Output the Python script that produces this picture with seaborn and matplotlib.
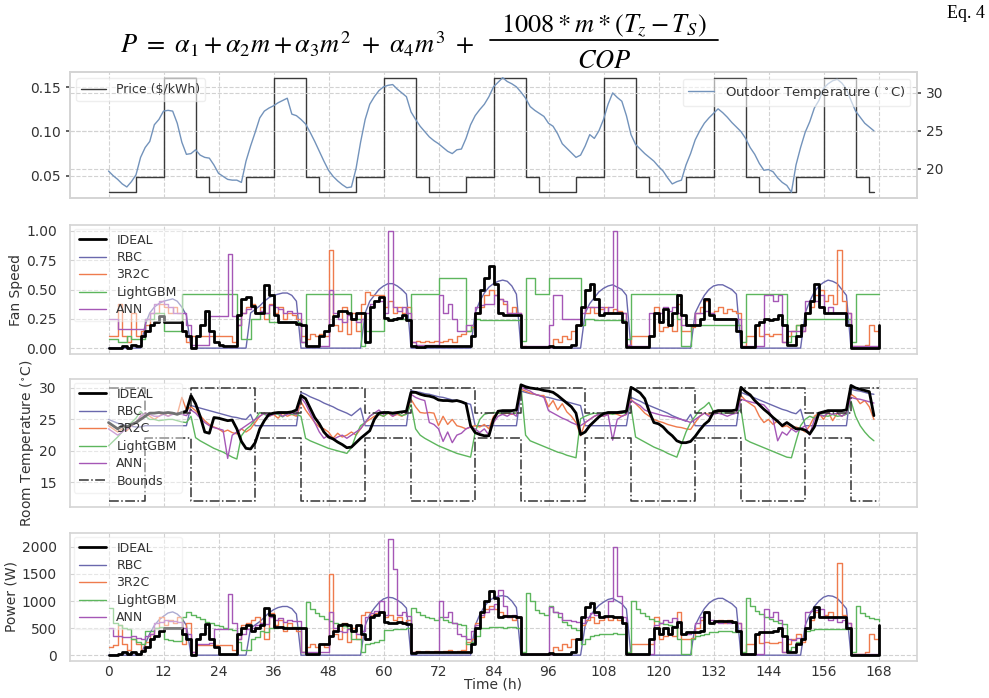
import numpy as np
import seaborn as sns
import matplotlib.pyplot as plt
from matplotlib.lines import Line2D

# ---------------- data (hourly) ----------------
price_hours = [0, 6, 12, 19, 22, 30, 36, 43, 46, 54, 60, 67, 70, 78, 84, 91, 94, 102,
               108, 115, 118, 126, 132, 139, 142, 150, 156, 163, 166, 167]
price_vals = [0.031, 0.048, 0.161, 0.048, 0.031, 0.048, 0.161, 0.048, 0.031, 0.048,
              0.161, 0.048, 0.031, 0.048, 0.161, 0.048, 0.031, 0.048, 0.161, 0.048,
              0.031, 0.048, 0.161, 0.048, 0.031, 0.048, 0.161, 0.048, 0.031, 0.031]

outdoor_temp = [
    19.7, 19.1, 18.6, 18.0, 17.6, 18.3, 19.2, 21.5, 22.8, 23.6, 25.8, 26.5, 27.6, 27.7, 27.6, 26.0, 23.5, 21.9, 22.0, 22.5, 21.8, 21.5, 21.4, 20.5,
    19.4, 19.0, 18.6, 18.5, 18.5, 18.2, 21.0, 23.0, 24.8, 26.7, 27.6, 28.0, 28.3, 28.7, 29.0, 29.3, 27.2, 27.0, 26.5, 25.9, 24.8, 23.6, 22.3, 21.0,
    19.8, 19.0, 18.4, 17.9, 17.5, 17.6, 20.0, 23.5, 26.5, 28.5, 29.5, 30.3, 30.8, 31.0, 31.1, 30.5, 30.0, 29.5, 27.5, 26.5, 25.6, 24.9, 24.2, 23.7,
    23.3, 22.8, 22.3, 22.0, 22.5, 22.6, 24.0, 25.8, 27.0, 27.8, 28.5, 29.5, 30.8, 31.4, 32.0, 31.5, 31.2, 30.8, 30.1, 29.3, 28.2, 27.7, 27.3, 26.9,
    26.0, 25.6, 24.6, 23.3, 22.7, 22.1, 21.5, 21.8, 23.0, 24.5, 24.0, 25.0, 26.5, 28.5, 30.0, 29.4, 28.9, 27.0, 24.5, 23.2, 22.6, 22.0, 21.5, 21.0,
    20.3, 19.7, 18.8, 18.0, 18.3, 18.5, 20.5, 22.0, 23.8, 25.0, 26.0, 26.7, 27.3, 27.9, 27.4, 26.8, 26.1, 25.5, 24.9, 24.0, 22.8, 21.9, 20.7, 19.8,
    19.9, 19.6, 18.8, 18.2, 17.8, 16.9, 20.5, 22.8, 24.8, 26.2, 28.0, 29.0, 30.6, 31.2, 31.6, 31.8, 31.3, 30.5, 29.0, 27.6, 26.8, 26.0, 25.5, 25.0]

# fan speed
fan_ideal = [
    0, 0, 0, 0.02, 0, 0.03, 0.02, 0.1, 0.15, 0.2, 0.22, 0.27, 0.22, 0.22, 0.22, 0.22, 0.15, 0.1, 0, 0.1, 0.2, 0.32, 0.15, 0.05,
    0.03, 0.02, 0.02, 0.02, 0.28, 0.42, 0.44, 0.36, 0.3, 0.3, 0.54, 0.45, 0.28, 0.22, 0.22, 0.22, 0.22, 0.21, 0.2, 0.02, 0.02, 0.02, 0.1, 0.15,
    0.2, 0.27, 0.32, 0.32, 0.3, 0.25, 0.3, 0.3, 0.05, 0.35, 0.4, 0.44, 0.26, 0.24, 0.25, 0.26, 0.28, 0.24, 0.02, 0.01, 0.01, 0.02, 0.02, 0.02,
    0.02, 0.02, 0.02, 0.02, 0.02, 0.02, 0.02, 0.1, 0.3, 0.5, 0.6, 0.7, 0.55, 0.3, 0.28, 0.28, 0.28, 0.28, 0.01, 0.01, 0.01, 0.01, 0.01, 0.01,
    0.02, 0.01, 0.01, 0.01, 0.01, 0.03, 0.2, 0.35, 0.5, 0.55, 0.42, 0.28, 0.3, 0.3, 0.3, 0.3, 0.22, 0.01, 0.01, 0.01, 0.01, 0.01, 0.1, 0.3,
    0.22, 0.33, 0.2, 0.3, 0.45, 0.28, 0.2, 0.2, 0.2, 0.25, 0.42, 0.28, 0.25, 0.25, 0.25, 0.25, 0.25, 0.15, 0.01, 0.01, 0.01, 0.2, 0.22, 0.25,
    0.24, 0.25, 0.28, 0.2, 0.03, 0.03, 0.1, 0.2, 0.3, 0.4, 0.55, 0.35, 0.3, 0.3, 0.3, 0.3, 0.3, 0.2, 0, 0, 0, 0, 0, 0,
    0.2]
fan_rbc = [
    0, 0, 0, 0, 0, 0, 0, 0, 0.2, 0.3, 0.35, 0.38, 0.4, 0.41, 0.42, 0.4, 0.35, 0.28, 0, 0, 0, 0, 0, 0,
    0, 0, 0, 0, 0, 0, 0, 0.3, 0.33, 0.36, 0.4, 0.43, 0.45, 0.46, 0.47, 0.47, 0.45, 0.4, 0, 0, 0, 0, 0, 0,
    0, 0, 0, 0, 0, 0, 0, 0, 0.3, 0.4, 0.45, 0.5, 0.53, 0.55, 0.55, 0.53, 0.5, 0.46, 0, 0, 0, 0, 0, 0,
    0, 0, 0, 0, 0, 0, 0, 0, 0.3, 0.4, 0.47, 0.52, 0.55, 0.57, 0.58, 0.57, 0.53, 0.46, 0, 0, 0, 0, 0, 0,
    0, 0, 0, 0, 0, 0, 0, 0, 0.3, 0.38, 0.43, 0.48, 0.51, 0.53, 0.54, 0.52, 0.5, 0.45, 0, 0, 0, 0, 0, 0,
    0, 0, 0, 0, 0, 0, 0, 0, 0.3, 0.38, 0.45, 0.5, 0.53, 0.54, 0.54, 0.52, 0.5, 0.46, 0, 0, 0, 0, 0, 0,
    0, 0, 0, 0, 0, 0, 0, 0, 0.3, 0.4, 0.48, 0.53, 0.56, 0.58, 0.57, 0.55, 0.5, 0.45, 0, 0, 0, 0, 0, 0,
    0]
fan_3r2c = [
    0.1, 0.1, 0.38, 0.1, 0.05, 0.3, 0.1, 0.15, 0.2, 0.3, 0.3, 0.38, 0.35, 0.3, 0.35, 0.3, 0.15, 0.05, 0.1, 0.1, 0.1, 0.1, 0.1, 0.1,
    0.1, 0.1, 0.1, 0.05, 0.2, 0.3, 0.35, 0.38, 0.3, 0.35, 0.25, 0.38, 0.3, 0.35, 0.25, 0.3, 0.28, 0.25, 0.1, 0.08, 0.12, 0.1, 0.12, 0.1,
    0.84, 0.2, 0.15, 0.35, 0.12, 0.3, 0.15, 0.38, 0.48, 0.45, 0.45, 0.45, 0.35, 0.4, 0.3, 0.35, 0.3, 0.35, 0.05, 0.06, 0.05, 0.06, 0.05, 0.06,
    0.05, 0.06, 0.08, 0.05, 0.1, 0.12, 0.15, 0.18, 0.3, 0.35, 0.45, 0.5, 0.45, 0.42, 0.38, 0.3, 0.35, 0.3, 0.02, 0.01, 0.01, 0.01, 0.01, 0.01,
    0.01, 0.08, 0.05, 0.1, 0.08, 0.15, 0.2, 0.35, 0.3, 0.35, 0.3, 0.33, 0.35, 0.3, 0.33, 0.32, 0.3, 0.03, 0.1, 0.1, 0.1, 0.1, 0.1, 0.35,
    0.15, 0.18, 0.2, 0.15, 0.38, 0.15, 0.15, 0.18, 0.3, 0.35, 0.4, 0.3, 0.32, 0.35, 0.3, 0.33, 0.32, 0.3, 0.02, 0.1, 0.1, 0.2, 0.1, 0.12,
    0.1, 0.12, 0.12, 0.05, 0.1, 0.15, 0.2, 0.15, 0.3, 0.35, 0.45, 0.5, 0.4, 0.45, 0.38, 0.84, 0.4, 0.3, 0.02, 0.02, 0.02, 0.03, 0.2, 0.15,
    0.15]
fan_lgbm = [
    0.08, 0.08, 0.05, 0.05, 0.1, 0.08, 0.08, 0.08, 0.25, 0.25, 0.3, 0.3, 0.15, 0.15, 0.15, 0.15, 0.46, 0.46, 0.46, 0.46, 0.46, 0.46, 0.46, 0.46,
    0.46, 0.46, 0.46, 0.46, 0.25, 0.08, 0.08, 0.25, 0.25, 0.3, 0.3, 0.22, 0.22, 0.22, 0.22, 0.22, 0.22, 0.22, 0.05, 0.46, 0.46, 0.46, 0.46, 0.46,
    0.46, 0.46, 0.46, 0.46, 0.46, 0.25, 0.25, 0.02, 0.15, 0.15, 0.15, 0.15, 0.25, 0.25, 0.25, 0.25, 0.25, 0.25, 0.46, 0.46, 0.46, 0.46, 0.46, 0.46,
    0.6, 0.6, 0.6, 0.6, 0.6, 0.6, 0.15, 0.2, 0.25, 0.24, 0.24, 0.24, 0.24, 0.24, 0.24, 0.24, 0.24, 0.24, 0.06, 0.6, 0.6, 0.46, 0.46, 0.46,
    0.6, 0.6, 0.6, 0.6, 0.6, 0.6, 0.6, 0.2, 0.25, 0.25, 0.24, 0.24, 0.24, 0.24, 0.24, 0.24, 0.24, 0.08, 0.46, 0.46, 0.46, 0.46, 0.46, 0.46,
    0.46, 0.46, 0.46, 0.46, 0.25, 0.02, 0.02, 0.2, 0.2, 0.2, 0.2, 0.2, 0.2, 0.2, 0.2, 0.2, 0.2, 0.2, 0.05, 0.46, 0.46, 0.46, 0.46, 0.46,
    0.46, 0.46, 0.46, 0.46, 0.05, 0.1, 0.2, 0.2, 0.25, 0.25, 0.25, 0.25, 0.25, 0.25, 0.25, 0.25, 0.25, 0.25, 0.05, 0.46, 0.46, 0.46, 0.46, 0.46,
    0.46]
fan_ann = [
    0.25, 0.25, 0.16, 0.16, 0.16, 0.16, 0.16, 0.16, 0.25, 0.3, 0.38, 0.4, 0.38, 0.35, 0.3, 0.3, 0.3, 0.2, 0.03, 0.03, 0.03, 0.03, 0.27, 0.27,
    0.27, 0.27, 0.8, 0.27, 0.2, 0.3, 0.33, 0.35, 0.3, 0.32, 0.3, 0.37, 0.35, 0.33, 0.3, 0.32, 0.3, 0.3, 0.05, 0.02, 0.02, 0.02, 0.02, 0.02,
    0.5, 0.3, 0.25, 0.22, 0.28, 0.25, 0.22, 0.25, 0.3, 0.38, 0.4, 0.4, 0.3, 1.0, 0.35, 0.32, 0.35, 0.3, 0.05, 0.03, 0.03, 0.03, 0.03, 0.03,
    0.45, 0.3, 0.38, 0.25, 0.15, 0.15, 0.2, 0.2, 0.35, 0.37, 0.38, 0.38, 0.45, 0.42, 0.4, 0.3, 0.3, 0.3, 0.02, 0.02, 0.02, 0.02, 0.02, 0.02,
    0.2, 0.45, 0.45, 0.25, 0.25, 0.25, 0.25, 0.3, 0.35, 0.35, 0.35, 0.35, 0.3, 0.35, 1.0, 0.3, 0.3, 0.03, 0.02, 0.02, 0.02, 0.02, 0.3, 0.3,
    0.3, 0.35, 0.32, 0.35, 0.3, 0.2, 0.2, 0.2, 0.3, 0.3, 0.32, 0.3, 0.25, 0.25, 0.25, 0.25, 0.25, 0.25, 0.02, 0.02, 0.02, 0.02, 0.02, 0.45,
    0.45, 0.4, 0.45, 0.05, 0.15, 0.15, 0.15, 0.15, 0.4, 0.4, 0.4, 0.45, 0.3, 0.35, 0.3, 0.3, 0.3, 0.3, 0.02, 0.02, 0.02, 0.02, 0.02, 0.02,
    0.02]

# room temperature
room_ideal = [
    24.5, 24.0, 23.5, 24.0, 23.8, 24.2, 24.5, 25.0, 25.5, 26.0, 26.0, 26.1, 26.0, 26.1, 26.0, 25.8, 26.1, 26.3, 28.8, 27.5, 25.5, 23.0, 22.8, 25.3,
    25.2, 25.0, 24.8, 24.9, 23.5, 21.5, 20.4, 20.3, 21.3, 23.5, 24.8, 25.8, 26.0, 26.1, 26.1, 26.1, 26.2, 26.5, 28.8, 28.3, 26.8, 25.3, 24.3, 23.0,
    22.2, 21.9, 21.4, 21.0, 20.5, 20.6, 21.3, 22.0, 22.6, 23.2, 25.0, 26.0, 26.1, 26.1, 26.0, 26.1, 26.2, 26.3, 29.3, 29.3, 29.0, 28.8, 28.7, 28.5,
    28.1, 28.0, 28.0, 27.9, 28.0, 27.8, 27.5, 24.0, 22.9, 22.6, 22.4, 22.4, 25.0, 26.3, 26.4, 26.4, 26.4, 26.5, 30.5, 30.2, 30.0, 29.9, 29.8, 29.6,
    29.5, 29.3, 28.8, 28.2, 27.6, 27.0, 26.0, 22.6, 23.0, 24.0, 24.7, 25.4, 25.9, 26.1, 26.1, 26.1, 26.2, 26.3, 30.1, 29.7, 29.2, 28.3, 26.2, 24.5,
    24.3, 23.8, 23.0, 22.4, 21.6, 21.3, 21.3, 21.5, 22.3, 23.3, 24.2, 24.8, 26.2, 26.4, 26.4, 26.4, 26.4, 26.5, 30.1, 29.4, 28.9, 28.0, 27.3, 26.6,
    26.0, 25.3, 24.7, 24.0, 24.5, 24.0, 23.5, 23.5, 23.3, 22.7, 23.8, 26.0, 26.2, 26.4, 26.4, 26.4, 26.4, 26.5, 30.4, 30.0, 29.8, 29.6, 29.4, 25.6]
room_rbc = [
    25.0, 24.7, 24.4, 24.2, 24.0, 23.9, 23.8, 23.8, 24.0, 24.0, 24.0, 24.0, 24.0, 24.0, 24.0, 24.0, 24.0, 24.0, 27.2, 27.0, 26.8, 26.6, 26.4, 26.2,
    26.0, 25.8, 25.6, 25.4, 25.3, 25.1, 25.0, 25.8, 24.0, 24.0, 24.0, 24.0, 24.0, 24.0, 24.0, 24.0, 24.0, 24.0, 29.3, 29.0, 28.6, 28.3, 28.0, 27.6,
    27.3, 27.0, 26.6, 26.3, 26.0, 25.6, 26.2, 26.8, 24.0, 24.0, 24.0, 24.0, 24.0, 24.0, 24.0, 24.0, 24.0, 24.0, 29.6, 29.4, 29.3, 29.1, 29.0, 28.8,
    28.6, 28.5, 28.3, 28.1, 28.0, 27.8, 27.6, 27.4, 24.0, 24.0, 24.0, 24.0, 24.0, 24.0, 24.0, 24.0, 24.0, 24.0, 29.5, 29.3, 29.1, 29.0, 28.8, 28.6,
    28.5, 28.3, 28.1, 28.0, 27.8, 27.6, 27.4, 27.2, 24.0, 24.0, 24.0, 24.0, 24.0, 24.0, 24.0, 24.0, 24.0, 24.0, 28.5, 28.2, 27.9, 27.5, 27.2, 26.9,
    26.6, 26.3, 26.0, 25.6, 25.3, 25.0, 24.7, 25.8, 24.0, 24.0, 24.0, 24.0, 24.0, 24.0, 24.0, 24.0, 24.0, 24.0, 29.3, 29.0, 28.7, 28.4, 28.1, 27.8,
    27.5, 27.2, 26.9, 26.6, 26.4, 26.1, 25.9, 26.6, 24.0, 24.0, 24.0, 24.0, 24.0, 24.0, 24.0, 24.0, 24.0, 24.0, 29.8, 29.6, 29.5, 29.3, 29.1, 29.0]
room_3r2c = [
    24.0, 23.5, 23.0, 23.5, 23.2, 24.0, 24.5, 25.5, 26.0, 25.5, 25.0, 25.5, 26.0, 25.5, 26.0, 25.8, 28.5, 26.5, 27.0, 26.4, 25.6, 24.8, 24.2, 23.8,
    23.5, 23.0, 23.3, 22.9, 22.7, 23.5, 23.0, 23.5, 24.5, 25.5, 26.0, 25.5, 25.8, 25.2, 26.0, 25.5, 25.8, 25.5, 27.8, 26.5, 25.5, 24.5, 23.8, 23.5,
    23.0, 22.0, 22.8, 22.2, 22.5, 23.0, 22.5, 23.5, 24.5, 25.0, 25.5, 25.8, 25.5, 26.0, 25.5, 25.8, 25.5, 26.0, 28.2, 27.0, 26.1, 26.0, 26.1, 26.0,
    24.0, 25.5, 24.2, 25.0, 24.0, 23.8, 23.5, 23.8, 24.0, 23.8, 24.2, 23.5, 25.5, 26.0, 25.8, 26.0, 25.8, 26.0, 29.8, 29.5, 29.2, 29.0, 28.8, 28.8,
    27.0, 28.0, 26.5, 27.5, 26.2, 25.5, 24.5, 22.4, 24.5, 25.0, 25.5, 25.8, 25.5, 25.8, 26.0, 25.8, 25.5, 25.8, 28.2, 27.5, 26.8, 26.0, 25.5, 25.0,
    24.7, 24.5, 24.2, 24.0, 23.8, 23.7, 23.5, 23.4, 24.5, 25.5, 26.0, 25.8, 26.2, 26.0, 26.4, 26.0, 26.2, 26.0, 28.8, 28.0, 27.5, 27.0, 25.5, 24.5,
    25.0, 24.2, 24.8, 23.8, 24.0, 23.5, 23.8, 23.5, 23.0, 24.0, 25.5, 26.0, 25.0, 26.2, 24.8, 26.0, 25.5, 26.0, 29.0, 28.5, 27.5, 28.0, 27.0, 25.0]
room_lgbm = [
    20.8, 21.5, 22.2, 23.0, 23.8, 24.5, 25.2, 26.3, 25.5, 25.0, 25.0, 24.8, 24.9, 25.0, 25.0, 24.8, 24.6, 24.5, 25.5, 22.1, 21.6, 21.2, 20.8, 20.4,
    20.1, 19.8, 19.4, 19.0, 18.7, 22.4, 23.4, 24.0, 25.0, 26.1, 25.8, 25.5, 26.0, 25.8, 25.4, 26.0, 25.8, 25.8, 25.5, 22.0, 21.6, 21.3, 21.0, 20.7,
    20.4, 20.2, 20.0, 19.8, 19.6, 20.5, 22.5, 24.0, 24.5, 25.5, 26.0, 25.8, 25.5, 26.0, 25.8, 26.0, 25.6, 25.8, 27.4, 23.5, 22.5, 22.0, 21.6, 21.2,
    20.8, 20.5, 20.2, 19.9, 19.6, 19.4, 19.2, 19.0, 23.0, 25.0, 25.8, 26.0, 26.1, 26.0, 26.0, 26.2, 26.0, 26.0, 30.2, 22.5, 21.6, 21.3, 21.0, 20.7,
    20.4, 20.1, 19.8, 19.6, 19.3, 19.1, 18.9, 25.1, 25.5, 25.8, 26.0, 25.8, 26.0, 26.0, 25.8, 26.0, 26.0, 26.0, 27.0, 22.2, 21.8, 21.4, 21.0, 20.6,
    20.3, 20.0, 19.6, 19.3, 19.0, 21.0, 23.0, 24.5, 25.5, 26.5, 27.0, 27.7, 26.2, 26.0, 26.0, 26.1, 26.0, 26.0, 26.6, 21.8, 21.4, 21.1, 20.8, 20.5,
    20.2, 19.9, 19.6, 19.3, 19.0, 18.9, 21.5, 24.0, 25.0, 25.5, 25.2, 25.8, 25.6, 25.5, 25.8, 25.5, 25.6, 25.8, 27.9, 25.5, 24.0, 23.0, 22.2, 21.6]
room_ann = [
    23.5, 23.0, 22.5, 23.0, 23.5, 24.0, 24.5, 25.5, 26.0, 25.8, 25.5, 25.5, 25.8, 25.5, 25.8, 26.0, 25.8, 25.6, 26.5, 26.0, 25.2, 24.5, 24.0, 23.7,
    23.5, 23.3, 18.8, 22.5, 23.0, 23.5, 24.0, 24.5, 25.0, 25.5, 26.0, 25.5, 25.8, 26.0, 25.5, 25.8, 26.0, 25.8, 28.5, 27.5, 26.0, 24.5, 23.0, 22.0,
    22.5, 21.8, 22.2, 22.5, 22.0, 22.5, 23.0, 23.5, 24.5, 25.5, 26.0, 26.5, 25.8, 26.2, 25.5, 26.0, 26.2, 26.0, 29.0, 28.5, 28.2, 28.0, 24.5, 24.2,
    23.5, 21.5, 23.0, 21.3, 22.5, 22.8, 23.5, 23.8, 23.5, 22.9, 23.5, 22.5, 24.5, 25.5, 25.8, 25.5, 26.0, 25.5, 30.1, 29.8, 29.5, 29.0, 28.8, 28.5,
    26.4, 26.0, 25.6, 25.2, 24.9, 24.5, 24.2, 24.0, 24.5, 25.0, 25.5, 25.8, 25.5, 25.8, 21.7, 25.0, 25.5, 25.8, 28.0, 27.6, 27.2, 26.5, 26.2, 26.0,
    25.8, 25.6, 25.5, 25.3, 25.2, 25.0, 24.8, 24.5, 25.0, 25.5, 26.0, 25.5, 25.8, 26.0, 25.8, 25.5, 25.8, 26.0, 28.2, 28.0, 27.8, 27.6, 27.5, 27.3,
    26.5, 25.0, 21.6, 23.0, 22.5, 23.5, 23.0, 23.5, 24.0, 22.5, 25.0, 25.8, 25.5, 26.0, 25.8, 26.0, 25.5, 26.0, 28.5, 28.3, 28.2, 28.0, 27.8, 27.6]

bound_hours = [0, 8, 18, 32, 42, 56, 66, 80, 90, 104, 114, 128, 138, 152, 162, 168]
bound_low = [12, 22, 12, 22, 12, 22, 12, 22, 12, 22, 12, 22, 12, 22, 12, 12]
bound_high = [30, 26, 30, 26, 30, 26, 30, 26, 30, 26, 30, 26, 30, 26, 30, 30]

# power (W)
power_ideal = [
    0, 0, 20, 50, 20, 50, 30, 80, 150, 300, 350, 450, 510, 510, 500, 500, 400, 300, 0, 300, 400, 580, 300, 150,
    30, 20, 20, 30, 400, 500, 550, 450, 500, 550, 880, 750, 520, 520, 510, 510, 500, 500, 500, 20, 20, 20, 200, 200,
    350, 450, 560, 580, 550, 450, 550, 400, 300, 700, 750, 800, 620, 600, 600, 610, 600, 580, 40, 50, 50, 60, 60, 60,
    60, 60, 60, 60, 60, 60, 60, 200, 500, 800, 1000, 1180, 1050, 710, 720, 720, 720, 700, 20, 20, 20, 20, 20, 20,
    40, 20, 20, 20, 20, 50, 300, 700, 890, 960, 800, 700, 720, 720, 700, 700, 600, 20, 20, 20, 20, 20, 300, 500,
    400, 500, 400, 520, 620, 400, 420, 420, 430, 450, 800, 600, 630, 630, 640, 630, 620, 450, 20, 20, 20, 400, 420, 430,
    430, 440, 500, 350, 50, 50, 200, 300, 500, 700, 890, 700, 710, 710, 700, 700, 700, 500, 0, 0, 0, 0, 0, 0,
    550]
power_rbc = [
    0, 0, 0, 0, 0, 0, 0, 0, 200, 400, 550, 650, 720, 780, 800, 760, 680, 550, 0, 0, 0, 0, 0, 0,
    0, 0, 0, 0, 0, 0, 0, 500, 560, 620, 700, 780, 840, 880, 900, 900, 860, 760, 0, 0, 0, 0, 0, 0,
    0, 0, 0, 0, 0, 0, 0, 0, 550, 750, 870, 970, 1040, 1070, 1060, 1020, 960, 870, 0, 0, 0, 0, 0, 0,
    0, 0, 0, 0, 0, 0, 0, 0, 550, 750, 900, 1000, 1060, 1090, 1100, 1080, 1000, 880, 0, 0, 0, 0, 0, 0,
    0, 0, 0, 0, 0, 0, 0, 0, 550, 720, 830, 920, 980, 1030, 1050, 1000, 950, 850, 0, 0, 0, 0, 0, 0,
    0, 0, 0, 0, 0, 0, 0, 0, 550, 720, 860, 960, 1020, 1050, 1050, 1000, 950, 870, 0, 0, 0, 0, 0, 0,
    0, 0, 0, 0, 0, 0, 0, 0, 550, 750, 900, 1000, 1070, 1100, 1090, 1050, 960, 860, 0, 0, 0, 0, 0, 0,
    0]
power_3r2c = [
    150, 180, 550, 200, 100, 300, 200, 100, 250, 400, 500, 700, 550, 650, 600, 700, 200, 600, 50, 190, 190, 190, 185, 185,
    185, 185, 185, 100, 300, 550, 600, 650, 700, 600, 300, 780, 550, 650, 450, 600, 500, 450, 50, 150, 200, 150, 200, 150,
    1500, 400, 300, 600, 250, 500, 300, 750, 800, 750, 780, 800, 700, 750, 650, 700, 600, 650, 50, 80, 60, 80, 60, 80,
    60, 80, 100, 60, 80, 100, 250, 300, 600, 700, 850, 900, 850, 800, 750, 700, 650, 700, 20, 20, 20, 20, 20, 20,
    20, 150, 100, 200, 150, 300, 300, 550, 650, 700, 600, 650, 700, 650, 700, 650, 600, 30, 200, 200, 210, 200, 210, 700,
    300, 350, 400, 350, 800, 300, 300, 320, 500, 650, 800, 600, 620, 650, 600, 650, 620, 600, 20, 200, 210, 400, 220, 250,
    220, 230, 250, 50, 200, 300, 400, 250, 500, 650, 800, 700, 750, 800, 700, 1700, 750, 600, 30, 30, 30, 50, 400, 300,
    300]
power_lgbm = [
    880, 600, 550, 500, 480, 300, 250, 200, 450, 450, 500, 520, 300, 280, 270, 260, 700, 800, 750, 700, 660, 620, 590, 560,
    530, 500, 480, 460, 250, 100, 100, 300, 330, 450, 430, 500, 510, 520, 520, 510, 520, 520, 60, 980, 850, 780, 720, 670,
    630, 600, 570, 540, 510, 300, 300, 50, 200, 220, 250, 280, 460, 470, 480, 490, 490, 500, 880, 800, 750, 700, 680, 650,
    700, 650, 620, 600, 580, 560, 200, 250, 350, 500, 510, 520, 520, 520, 510, 520, 520, 510, 60, 1150, 1000, 830, 780, 740,
    900, 800, 700, 620, 550, 500, 460, 200, 300, 350, 380, 400, 400, 400, 410, 400, 400, 60, 1010, 850, 780, 720, 670, 630,
    600, 570, 550, 530, 300, 30, 30, 300, 350, 380, 400, 420, 430, 440, 440, 440, 430, 420, 60, 1060, 900, 820, 760, 710,
    670, 630, 600, 570, 100, 150, 250, 300, 450, 470, 480, 480, 490, 490, 480, 480, 490, 480, 60, 900, 780, 720, 690, 660,
    640]
power_ann = [
    500, 350, 350, 330, 330, 350, 320, 300, 350, 400, 600, 620, 650, 640, 630, 620, 500, 400, 50, 200, 200, 200, 220, 480,
    480, 490, 1130, 600, 300, 400, 480, 500, 550, 600, 580, 700, 650, 680, 620, 650, 640, 630, 50, 50, 50, 50, 50, 60,
    800, 500, 450, 420, 480, 450, 400, 450, 700, 780, 820, 1000, 750, 2150, 1600, 750, 800, 720, 50, 50, 50, 50, 50, 50,
    1000, 700, 800, 600, 400, 350, 300, 450, 550, 750, 800, 850, 950, 1200, 900, 700, 750, 700, 20, 20, 20, 20, 20, 20,
    890, 800, 780, 650, 650, 640, 620, 600, 700, 780, 750, 700, 700, 1000, 2000, 1100, 700, 20, 20, 20, 20, 20, 20, 550,
    600, 650, 620, 680, 600, 400, 400, 420, 600, 700, 780, 650, 620, 600, 610, 600, 620, 600, 20, 20, 20, 20, 20, 860,
    700, 800, 650, 50, 300, 280, 320, 300, 800, 820, 830, 850, 700, 650, 680, 620, 650, 600, 20, 20, 20, 20, 20, 20,
    20]

names = ['IDEAL', 'RBC', '3R2C', 'LightGBM', 'ANN']
colors = {'IDEAL': 'black', 'RBC': '#6a68ad', '3R2C': '#ef7b4d',
          'LightGBM': '#5db65d', 'ANN': '#a557b6'}

# ---------------- style ----------------
sns.set_theme(style="whitegrid", rc={
    "grid.linestyle": "--", "grid.color": "#d2d2d2", "grid.linewidth": 0.8,
    "axes.edgecolor": "#d4d4d4", "axes.linewidth": 1.2,
    "text.color": ".2", "axes.labelcolor": ".2",
    "xtick.color": ".2", "ytick.color": ".2",
    "xtick.labelsize": 10, "ytick.labelsize": 10, "axes.labelsize": 10,
    "legend.fontsize": 9, "mathtext.fontset": "stix"})
plt.rcParams['font.family'] = ['DejaVu Sans']

fig = plt.figure(figsize=(9.89, 6.98), dpi=100)
W, H = 989.0, 698.0


def box(x0, y0, x1, y1):
    return [x0 / W, 1 - y1 / H, (x1 - x0) / W, (y1 - y0) / H]


ax1 = fig.add_axes(box(70, 72, 917, 198))
ax2 = fig.add_axes(box(70, 225, 917, 354))
ax3 = fig.add_axes(box(70, 379, 917, 507))
ax4 = fig.add_axes(box(70, 533, 917, 661))

leg_kw = dict(loc='upper left', framealpha=0.45, edgecolor='#e4e4e4',
              labelspacing=0.35, borderaxespad=0.3, handlelength=2.2)

# ---- price / outdoor temperature ----
sns.lineplot(x=price_hours, y=price_vals, ax=ax1, color='#3a3a3a', lw=1.0,
             drawstyle='steps-post', label='Price (\\$/kWh)', estimator=None)
ax1b = ax1.twinx()
sns.lineplot(x=np.arange(len(outdoor_temp)), y=outdoor_temp, ax=ax1b, color='#7393bb',
             lw=1.0, label=r'Outdoor Temperature ( $^\circ$C)', estimator=None)
ax1.set_yticks([0.05, 0.10, 0.15])
ax1.set_yticklabels(['0.05', '0.10', '0.15'])
ax1b.set_yticks([20, 25, 30])
ax1.legend(loc='upper left', fontsize=9, framealpha=0.6, edgecolor='#e4e4e4')
ax1b.legend(loc='upper right', fontsize=9.5, framealpha=0.6, edgecolor='#e4e4e4')
ax1.tick_params(axis='y', left=True, length=3, color='.3')
ax1b.tick_params(axis='y', right=True, length=3, color='.3', labelsize=10)
ax1b.grid(True, axis='y', linestyle='--', color='#d2d2d2', lw=0.8)
ax1b.set_ylabel('')
for s in ax1b.spines.values():
    s.set_color('#d4d4d4')


def draw(ax, series, steps=True):
    for name, vals in zip(names, series):
        stepped = steps and name != 'RBC'
        sns.lineplot(x=np.arange(len(vals)), y=vals, ax=ax, color=colors[name],
                     lw=2.0 if name == 'IDEAL' else 1.0, label=name,
                     drawstyle='steps-post' if stepped else 'default',
                     zorder=4 if name == 'IDEAL' else 2, estimator=None)


draw(ax2, [fan_ideal, fan_rbc, fan_3r2c, fan_lgbm, fan_ann])
ax2.set_ylabel('Fan Speed', labelpad=2)
ax2.set_yticks([0, 0.25, 0.5, 0.75, 1.0])
ax2.set_yticklabels(['0.00', '0.25', '0.50', '0.75', '1.00'])
ax2.legend(**leg_kw)

draw(ax3, [room_ideal, room_rbc, room_3r2c, room_lgbm, room_ann], steps=False)
sns.lineplot(x=bound_hours, y=bound_low, ax=ax3, color='#333333', lw=1.1, ls='-.',
             drawstyle='steps-post', label='Bounds', estimator=None)
sns.lineplot(x=bound_hours, y=bound_high, ax=ax3, color='#333333', lw=1.1, ls='-.',
             drawstyle='steps-post', estimator=None)
ax3.set_ylabel(r'Room Temperature ($^\circ$C)', labelpad=2)
ax3.set_yticks([15, 20, 25, 30])
ax3.legend(**leg_kw)

draw(ax4, [power_ideal, power_rbc, power_3r2c, power_lgbm, power_ann])
ax4.set_ylabel('Power (W)', labelpad=2)
ax4.set_yticks([0, 500, 1000, 1500, 2000])
ax4.legend(**leg_kw)

for ax in [ax1, ax2, ax3, ax4]:
    ax.set_xlim(-8.4, 176.4)
    ax.set_xticks(np.arange(0, 169, 12))
    if ax is not ax4:
        ax.set_xticklabels([])
        ax.set_xlabel('')
    if ax is ax1:
        ax.set_ylabel('')

ax4.tick_params(axis='x', length=0, pad=3)
ax4.set_xlabel('Time (h)', labelpad=-1)

# equation pasted above the chart
fig.text(120 / W, 1 - 53 / H,
         r'$P\ =\ \alpha_1 + \alpha_2 m + \alpha_3 m^2\ +\ \alpha_4 m^3\ +$',
         fontsize=19, ha='left', va='baseline', color='black')
fig.text(604 / W, 1 - 32 / H, r'$1008 * m * (T_z - T_S)$',
         fontsize=19, ha='center', va='baseline', color='black')
fig.add_artist(Line2D([490 / W, 718 / W], [1 - 40 / H, 1 - 40 / H], color='black', lw=1.3))
fig.text(604 / W, 1 - 68 / H, r'$COP$',
         fontsize=19, ha='center', va='baseline', color='black')
fig.text(985 / W, 1 - 14 / H, 'Eq. 4', family='Liberation Serif', fontsize=13,
         ha='right', va='center', color='black')

fig.savefig('out.png', dpi=100)
